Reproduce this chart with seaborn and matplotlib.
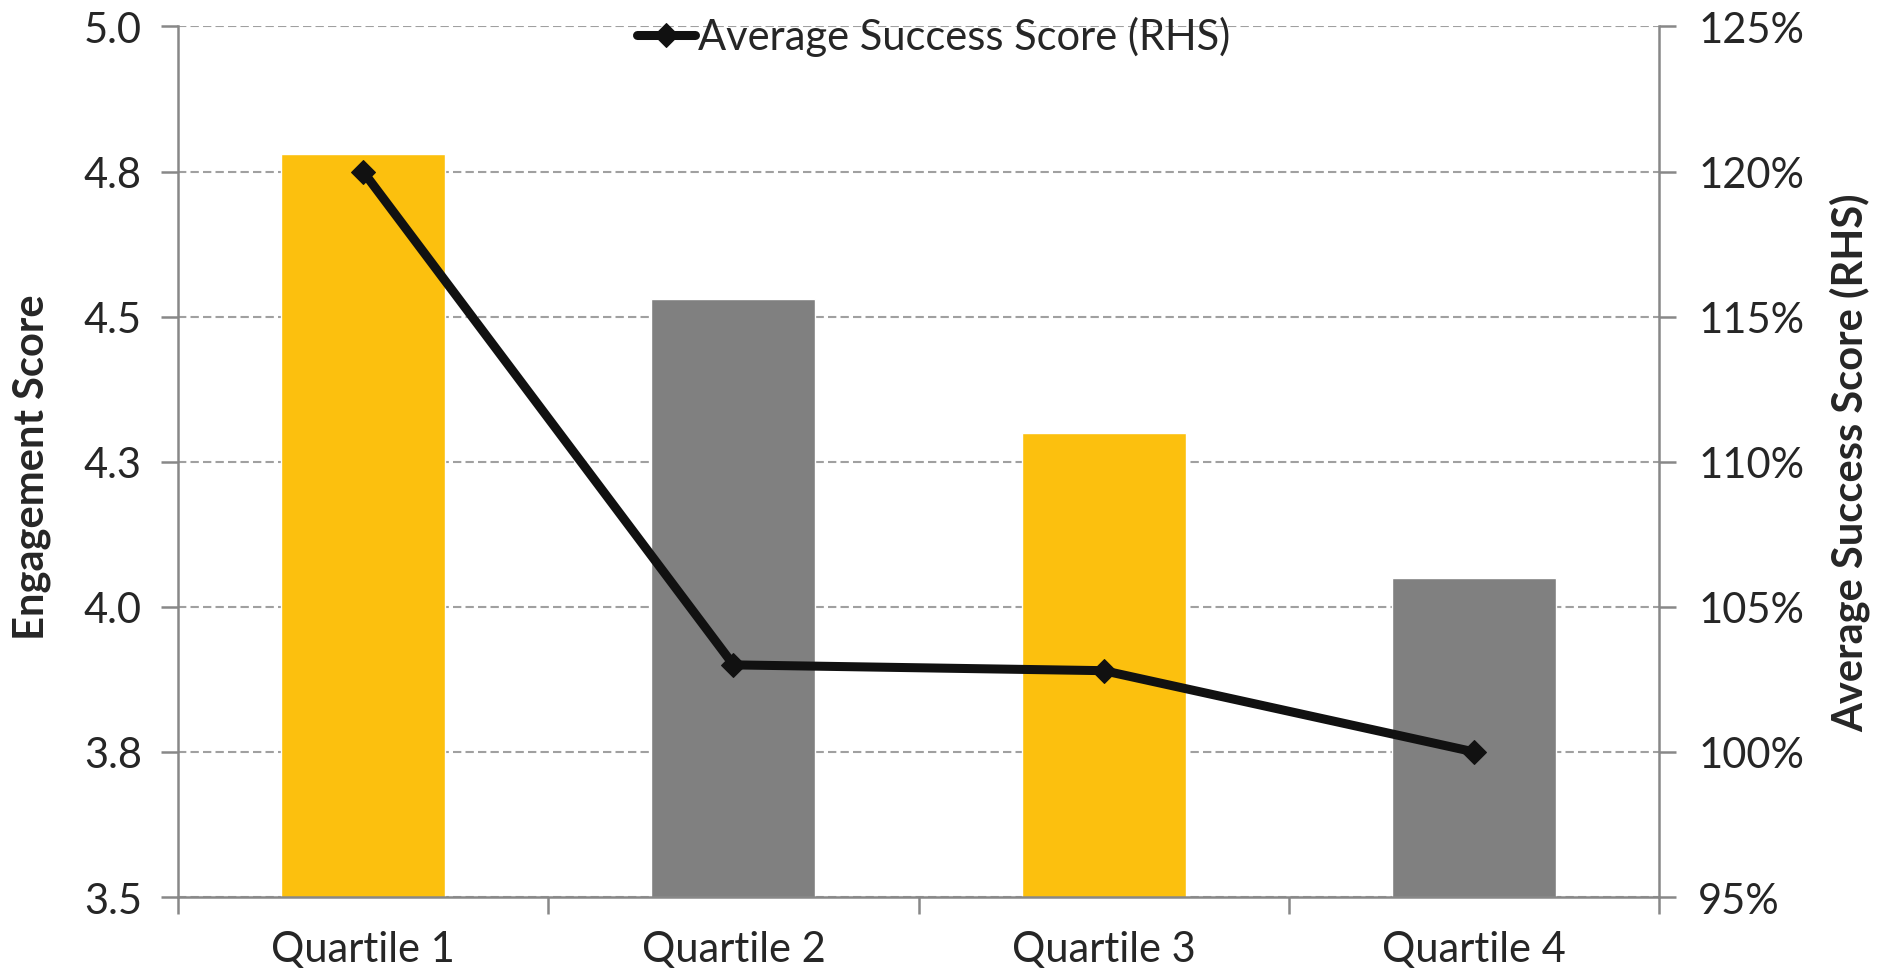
import matplotlib
matplotlib.use("Agg")
import matplotlib.pyplot as plt
import seaborn as sns
import pandas as pd
from matplotlib.ticker import FixedLocator, FuncFormatter

categories = ["Quartile 1", "Quartile 2", "Quartile 3", "Quartile 4"]
engagement = [4.78, 4.53, 4.30, 4.05]
success = [120.0, 103.0, 102.8, 100.0]
left_ticks = [3.5, 3.75, 4.0, 4.25, 4.5, 4.75, 5.0]
left_labels = ["3.5", "3.8", "4.0", "4.3", "4.5", "4.8", "5.0"]
right_ticks = [95, 100, 105, 110, 115, 120, 125]
bar_colors = ["#FCC00E", "#808080", "#FCC00E", "#808080"]

sns.set_theme(style="ticks")
plt.rcParams['font.family'] = ['Lato', 'DejaVu Sans']
plt.rcParams['xtick.minor.visible'] = False

df = pd.DataFrame({"cat": categories, "eng": engagement, "succ": success})

fig = plt.figure(figsize=(18.77, 9.79), dpi=100)
ax = fig.add_axes([0.0948, 0.0827, 0.7892, 0.8893])

sns.barplot(data=df, x="cat", y="eng", hue="cat", palette=bar_colors,
            width=0.443, ax=ax, legend=False, saturation=1)
ax.set_ylim(3.5, 5.0)
ax.set_xlim(-0.5, 3.5)
ax.set_yticks(left_ticks)
ax.set_yticklabels(left_labels)
ax.yaxis.grid(True, linestyle=(0, (4, 2)), color="#A0A0A0", linewidth=1.5)
ax.set_axisbelow(True)
ax.set_xlabel("")
ax.set_ylabel("Engagement Score", fontsize=30, fontweight="bold")
ax.yaxis.set_label_coords(-0.086, 0.495)

ax.tick_params(axis="x", which="major", length=0, labelsize=30, pad=24)
ax.xaxis.set_minor_locator(FixedLocator([-0.5, 0.5, 1.5, 2.5, 3.5]))
ax.tick_params(axis="x", which="minor", length=12, width=1.8, color="#888888",
               direction="out", bottom=True)
ax.tick_params(axis="y", which="major", length=12, width=1.8, color="#888888",
               labelsize=30, direction="out", left=True, pad=14)

for s in ["left", "bottom", "right"]:
    ax.spines[s].set_color("#888888")
    ax.spines[s].set_linewidth(1.8)
ax.spines["top"].set_visible(False)

ax2 = ax.twinx()
sns.lineplot(x=[0, 1, 2, 3], y=df["succ"], ax=ax2, color="#111111", linewidth=6.5,
             marker="D", markersize=12, markeredgecolor="#111111",
             label="Average Success Score (RHS)")
ax2.set_ylim(95, 125)
ax2.set_yticks(right_ticks)
ax2.yaxis.set_major_formatter(FuncFormatter(lambda v, p: f"{v:.0f}%"))
ax2.tick_params(axis="y", which="major", length=12, width=1.8, color="#888888",
                labelsize=30, direction="out", right=True, pad=16)
ax2.set_ylabel("Average Success Score (RHS)", fontsize=30, fontweight="bold", labelpad=18)
for s in ["left", "bottom", "right", "top"]:
    ax2.spines[s].set_visible(False)
ax2.grid(False)

leg = ax2.legend(loc="upper center", bbox_to_anchor=(0.51, 1.055), frameon=False,
                 fontsize=30, handlelength=1.4, handletextpad=0.05)

fig.savefig("out.png", dpi=100)
